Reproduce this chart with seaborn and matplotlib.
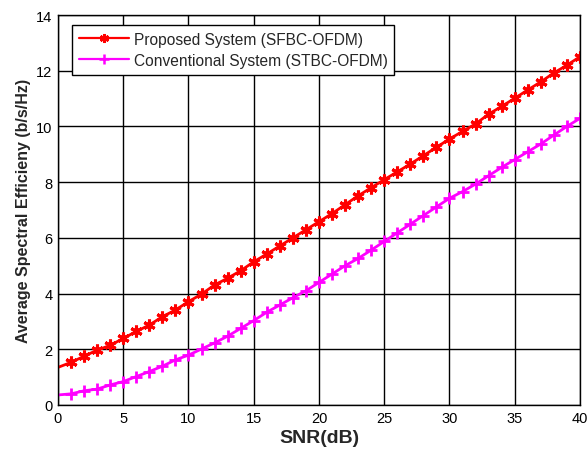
import numpy as np
import pandas as pd
import matplotlib
matplotlib.use("Agg")
import matplotlib.pyplot as plt
import seaborn as sns

snr_db = list(range(0, 41))

proposed = [1.35, 1.53, 1.75, 1.97, 2.14, 2.39, 2.64, 2.87, 3.17, 3.41,
            3.71, 3.98, 4.31, 4.55, 4.82, 5.14, 5.42, 5.71, 6.00, 6.29,
            6.58, 6.87, 7.19, 7.51, 7.80, 8.09, 8.37, 8.65, 8.95, 9.25,
            9.55, 9.82, 10.09, 10.44, 10.72, 11.01, 11.31, 11.60, 11.92, 12.20,
            12.50]

conventional = [0.36, 0.40, 0.51, 0.57, 0.72, 0.84, 1.02, 1.20, 1.39, 1.62,
                1.79, 2.01, 2.23, 2.47, 2.75, 3.03, 3.33, 3.59, 3.85, 4.10,
                4.40, 4.70, 5.00, 5.26, 5.56, 5.87, 6.18, 6.49, 6.80, 7.11,
                7.42, 7.66, 7.93, 8.23, 8.53, 8.81, 9.09, 9.37, 9.69, 10.00,
                10.29]

labels = ["Proposed System (SFBC-OFDM)", "Conventional System (STBC-OFDM)"]

sns.set_style("white")
plt.rcParams["font.family"] = ["Liberation Sans", "DejaVu Sans"]

fig = plt.figure(figsize=(5.87, 4.52), dpi=100)
ax = fig.add_axes([0.0988, 0.1018, 0.8892, 0.8628])

df_p = pd.DataFrame({"snr": snr_db, "se": proposed})
df_c = pd.DataFrame({"snr": snr_db, "se": conventional})

sns.lineplot(data=df_p, x="snr", y="se", ax=ax, color="#FF0000", linewidth=2,
             marker=(6, 2, 0), markersize=8.5, markeredgewidth=2.2,
             markeredgecolor="#FF0000", markevery=slice(1, None),
             label=labels[0])
sns.lineplot(data=df_c, x="snr", y="se", ax=ax, color="#FF00FF", linewidth=2,
             marker="+", markersize=8, markeredgewidth=2,
             markeredgecolor="#FF00FF", markevery=slice(1, None),
             label=labels[1])

ax.set_xlim(0, 40)
ax.set_ylim(0, 14)
ax.set_xticks(range(0, 41, 5))
ax.set_yticks(range(0, 15, 2))
ax.grid(True, color="black", linewidth=1.0, linestyle="-")
for s in ax.spines.values():
    s.set_color("black")
    s.set_linewidth(1.0)
ax.tick_params(direction="in", length=4, labelsize=10.5, colors="black", pad=4)

ax.set_xlabel("SNR(dB)", fontsize=14, fontweight="bold", labelpad=3)
ax.set_ylabel("Average Spectral Efficieny (b/s/Hz)", fontsize=11.5,
              fontweight="bold", labelpad=4)

leg = ax.legend(loc="upper left", bbox_to_anchor=(0.027, 0.975),
                borderaxespad=0, fontsize=11.2, frameon=True, fancybox=False,
                handlelength=3.2, handletextpad=0.3, borderpad=0.45,
                labelspacing=0.38, framealpha=1)
leg.get_frame().set_edgecolor("black")
leg.get_frame().set_linewidth(1.0)
for h in leg.legend_handles:
    h.set_linewidth(1.6)
    h.set_markersize(6.5)
    h.set_markeredgewidth(1.8)

fig.savefig("out.png", dpi=100)
